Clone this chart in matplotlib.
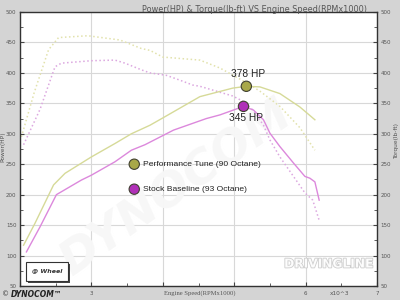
import matplotlib
matplotlib.use("Agg")
from matplotlib import pyplot as plt
from matplotlib import patheffects
from matplotlib.ticker import MultipleLocator
import numpy as np

# Performance Tune (90 Octane)
perf_hp_rpm = [2.05, 2.21, 2.47, 2.63, 3.0, 3.33, 3.56, 3.82, 4.0, 4.52, 4.98, 5.17, 5.36, 5.64, 5.92, 6.13]
perf_hp = [117, 153, 216, 235, 262, 284, 300, 314, 326, 361, 375, 378, 377, 366, 344, 323]
perf_tq_rpm = [2.02, 2.20, 2.40, 2.54, 2.95, 3.40, 3.70, 3.82, 4.0, 4.52, 4.8, 5.0, 5.17, 5.36, 5.64, 5.92, 6.13]
perf_tq = [295, 368, 438, 458, 461, 454, 440, 437, 426, 421, 408, 395, 384, 370, 345, 310, 273]

# Stock Baseline (93 Octane)
stock_hp_rpm = [2.09, 2.28, 2.51, 2.86, 3.0, 3.33, 3.56, 3.75, 4.15, 4.61, 4.80, 4.99, 5.13,
                5.27, 5.41, 5.5, 5.64, 5.83, 5.99, 6.06, 6.13, 6.19]
stock_hp = [106, 147, 200, 224, 232, 254, 273, 282, 306, 325, 331, 339, 345,
            339, 323, 301, 279, 252, 230, 227, 221, 191]
stock_tq_rpm = [2.05, 2.28, 2.49, 2.58, 3.0, 3.33, 3.47, 3.70, 3.82, 4.05, 4.24, 4.42, 4.52,
                4.98, 5.13, 5.27, 5.41, 5.5, 5.64, 5.83, 5.99, 6.10, 6.19]
stock_tq = [282, 340, 410, 416, 420, 421, 416, 405, 400, 396, 388, 380, 378,
            362, 353, 338, 314, 290, 262, 230, 203, 191, 158]

# peak markers
peak_rpm = [5.17, 5.13]
peak_hp = [378, 345]
peak_labels = ["378 HP", "345 HP"]

series_names = ["Performance Tune (90 Octane)", "Stock Baseline (93 Octane)"]
line_colors = ["#d6da98", "#dc88dc"]
marker_colors = ["#a8a848", "#b030b8"]

fig = plt.figure(figsize=(4, 3), dpi=100, facecolor="#d4d4d4")
ax = fig.add_axes([0.05, 0.0467, 0.8925, 0.9133])
ax.set_facecolor("white")

# faint watermark behind the curves
ax.text(4.2, 210, "DYNOCOM", ha="center", va="center", fontsize=34, rotation=35,
        color="#f7f7f7", fontweight="bold", fontstyle="italic", zorder=0.7)

ax.plot(perf_tq_rpm, perf_tq, color="#e2e2ac", lw=1.1, ls=":")
ax.plot(stock_tq_rpm, stock_tq, color="#dca8e0", lw=1.1, ls=":")
ax.plot(perf_hp_rpm, perf_hp, color=line_colors[0], lw=1.0)
ax.plot(stock_hp_rpm, stock_hp, color=line_colors[1], lw=1.0)

ax.scatter(peak_rpm, peak_hp, s=55, c=marker_colors, edgecolors="#404030", linewidths=0.8, zorder=5)
ax.text(peak_rpm[0] + 0.02, peak_hp[0] + 12, peak_labels[0], ha="center", va="bottom",
        fontsize=7.3, family="Liberation Sans", color="#222222")
ax.text(peak_rpm[1] + 0.03, peak_hp[1] - 11, peak_labels[1], ha="center", va="top",
        fontsize=7.3, family="Liberation Sans", color="#222222")

# legend-like labels inside the plot
leg_y = [250, 209]
ax.scatter([3.60, 3.60], leg_y, s=55, c=marker_colors, edgecolors="#404030", linewidths=0.8, zorder=5)
for yy, name in zip(leg_y, series_names):
    ax.text(3.72, yy, name, ha="left", va="center", fontsize=6.1,
            family="Liberation Sans", color="#222222")

ax.set_xlim(2, 7)
ax.set_ylim(50, 500)
ax.xaxis.set_major_locator(MultipleLocator(1))
ax.xaxis.set_minor_locator(MultipleLocator(0.5))
ax.yaxis.set_major_locator(MultipleLocator(50))
ax.yaxis.set_minor_locator(MultipleLocator(25))
ax.grid(True, which="major", color="#d8d8d8", lw=0.8)
ax.set_axisbelow(True)
ax.set_xticks([2, 3, 4, 5, 6, 7])
ax.set_xticklabels(["", "3", "", "", "6", "7"])
ax.tick_params(which="both", direction="in", right=True, labelright=True,
               labelsize=4, labelcolor="#555555", color="#444444", pad=2.5)
ax.tick_params(axis="x", pad=3.5)
ax.tick_params(which="major", length=3)
ax.tick_params(which="minor", length=2)
for sp in ax.spines.values():
    sp.set_color("#333333")
    sp.set_linewidth(1.0)

fig.text(0.635, 0.985, "Power(HP) & Torque(lb-ft) VS Engine Speed(RPMx1000)", ha="center", va="top",
         fontsize=5.85, color="#555555")
fig.text(0.5, 0.023, "Engine Speed(RPMx1000)", ha="center", va="center", fontsize=4.8,
         color="#555555", family="Liberation Serif")
fig.text(0.85, 0.023, "x10^3", ha="center", va="center", fontsize=4.2, color="#555555")
fig.text(0.0075, 0.51, "Power(HP)", rotation=90, ha="center", va="center", fontsize=4.2, color="#555555")
fig.text(0.991, 0.53, "Torque(lb-ft)", rotation=90, ha="center", va="center", fontsize=4.2, color="#555555")

# '@ Wheel' box
fig.patches.append(plt.Rectangle((0.069, 0.058), 0.105, 0.063, transform=fig.transFigure,
                                 facecolor="#444444", edgecolor="none", zorder=3))
fig.patches.append(plt.Rectangle((0.064, 0.065), 0.105, 0.063, transform=fig.transFigure,
                                 facecolor="white", edgecolor="#333333", lw=0.8, zorder=4))
fig.text(0.117, 0.097, "@ Wheel", ha="center", va="center", fontsize=4.5, fontweight="bold",
         fontstyle="italic", color="#333333", zorder=5)

# logos / watermarks
fig.text(0.005, 0.018, "\u00a9", ha="left", va="center", fontsize=5, color="#333333")
fig.text(0.027, 0.018, "DYNOCOM\u2122", ha="left", va="center", fontsize=5.5, fontweight="bold",
         fontstyle="italic", color="#222222")
fig.text(0.822, 0.12, "DRIVINGLINE", ha="center", va="center", fontsize=8.8, color="white",
         fontweight="bold", alpha=0.9, path_effects=[
             patheffects.withStroke(linewidth=1.2, foreground="#c8c8c8")])

fig.savefig("out.png", dpi=100, facecolor=fig.get_facecolor())
